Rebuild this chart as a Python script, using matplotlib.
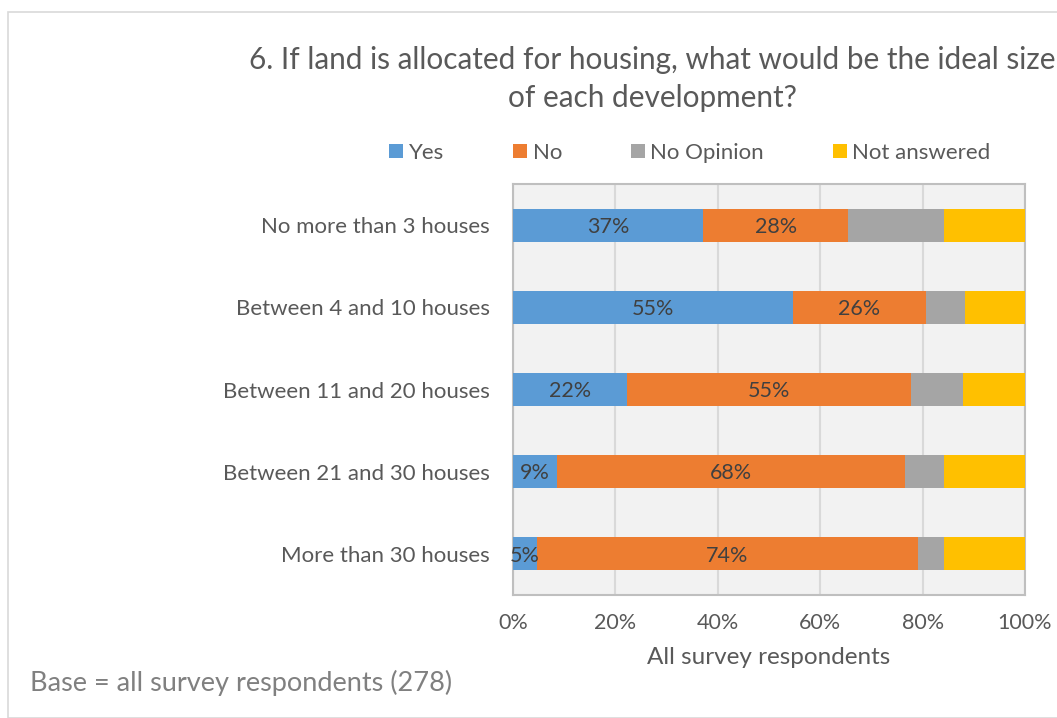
import numpy as np
import matplotlib.pyplot as plt
from matplotlib.patches import Rectangle
from matplotlib.ticker import FuncFormatter

plt.rcParams['font.family'] = ['Lato', 'DejaVu Sans']

categories = ["No more than 3 houses", "Between 4 and 10 houses", "Between 11 and 20 houses",
              "Between 21 and 30 houses", "More than 30 houses"]
yes = [37.1, 54.7, 22.3, 8.6, 4.7]
no = [28.4, 25.9, 55.4, 68.0, 74.4]
no_opinion = [18.7, 7.6, 10.1, 7.6, 5.1]
not_answered = [15.8, 11.8, 12.2, 15.8, 15.8]
series_names = ["Yes", "No", "No Opinion", "Not answered"]
colors = ["#5B9BD5", "#ED7D31", "#A5A5A5", "#FFC000"]
labelled = [True, True, False, False]

fig = plt.figure(figsize=(10.57, 7.18), dpi=100)
ax = fig.add_axes([0.4853, 0.1713, 0.4844, 0.5724])

# outer chart border
fig.patches.append(Rectangle((8/1057, 0.0), 1.2, 1 - 12/718, transform=fig.transFigure,
                             fill=False, edgecolor="#D9D9D9", linewidth=1.2))

y = np.arange(len(categories))
left = np.zeros(len(categories))
handles = []
for vals, name, col, lab in zip([yes, no, no_opinion, not_answered], series_names, colors, labelled):
    vals = np.array(vals)
    b = ax.barh(y, vals, left=left, height=0.4, color=col, label=name, zorder=3)
    handles.append(b)
    if lab:
        for yi, l, v in zip(y, left, vals):
            ax.text(l + v / 2, yi + 0.02, f"{v:.0f}%", ha="center", va="center",
                    fontsize=15.5, color="#404040", zorder=4)
    left += vals

ax.set_xlim(0, 100)
ax.set_ylim(len(categories) - 0.5, -0.5)
ax.set_yticks(y)
ax.set_yticklabels(categories)
ax.set_xticks(np.arange(0, 101, 20))
ax.xaxis.set_major_formatter(FuncFormatter(lambda v, p: f"{v:.0f}%"))
ax.tick_params(axis="both", length=0, labelcolor="#595959")
ax.tick_params(axis="x", pad=13, labelsize=15.5)
ax.tick_params(axis="y", pad=16.5, labelsize=16)
ax.set_facecolor("#F2F2F2")
ax.grid(axis="x", color="#D9D9D9", linewidth=1.5, zorder=0)
for s in ax.spines.values():
    s.set_color("#BFBFBF")
    s.set_linewidth(1.5)
ax.set_xlabel("All survey respondents", fontsize=17.5, color="#595959", labelpad=10)

fig.text(652/1057, 1 - 79/718, "6. If land is allocated for housing, what would be the ideal size\nof each development?",
         ha="center", va="center", fontsize=21.4, color="#595959", linespacing=1.42)

fig.legend(handles=handles, labels=series_names, loc="center", bbox_to_anchor=(690/1057, 1 - 153/718),
           ncol=4, frameon=False, fontsize=16, handlelength=0.63, handleheight=0.63,
           handletextpad=0.25, columnspacing=3.1, labelcolor="#595959")

fig.text(30/1057, 1 - 683/718, "Base = all survey respondents (278)", ha="left", va="center",
         fontsize=19.5, color="#808080")

fig.savefig("out.png", dpi=100)
